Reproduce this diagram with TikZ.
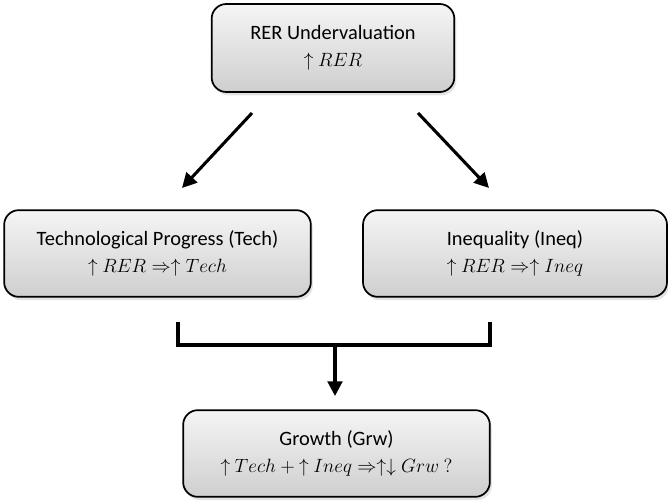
\documentclass[tikz,border=0pt]{standalone}
\usepackage{amsmath}
\usepackage{fontspec}
\setmainfont{Carlito}
\usetikzlibrary{arrows.meta,shadows}

\begin{document}
\begin{tikzpicture}[
    x=0.75pt, y=-0.75pt,
    box/.style={draw, line width=1.3pt, rounded corners=11pt, align=center,
                minimum height=65pt, top color=gray!8, bottom color=gray!38,
                drop shadow={opacity=0.22, shadow xshift=1.5pt, shadow yshift=-2.5pt},
                font=\fontsize{15.3}{20.5}\selectfont},
    flow/.style={line width=2.3pt, -{Triangle[length=11pt,width=11pt]}},
    bracket/.style={line width=2.3pt, line join=miter}
  ]
    \useasboundingbox (0,0) rectangle (668,502);

    \node[box, minimum width=182pt, minimum height=66pt] (rer) at (333,48)
      {RER Undervaluation\\${\uparrow}\ RER$};
    \node[box, minimum width=230pt] (tech) at (157.5,253.5)
      {Technological Progress (Tech)\\${\uparrow}\ RER \mathrel{\Rightarrow\uparrow} Tech$};
    \node[box, minimum width=228pt] (ineq) at (515,253.5)
      {Inequality (Ineq)\\${\uparrow}\ RER \mathrel{\Rightarrow\uparrow} Ineq$};
    \node[box, minimum width=230pt] (grw) at (336.5,453.5)
      {Growth (Grw)\\${\uparrow}\ Tech + {\uparrow}\ Ineq \mathrel{\Rightarrow\uparrow\downarrow} Grw\ ?$};

    % free ends of the connectors
    \coordinate (rerL) at (252,113);
    \coordinate (techT) at (182,188);
    \coordinate (rerR) at (418,113);
    \coordinate (ineqT) at (489,188);
    \coordinate (joinL) at (178,322);
    \coordinate (joinR) at (490,322);
    \coordinate (joinM) at (335,345);
    \coordinate (grwT) at (335,396);

    \draw[flow] (rerL) -- (techT);
    \draw[flow] (rerR) -- (ineqT);
    \draw[bracket] (joinL) -- (joinL |- joinM) -- (joinR |- joinM) -- (joinR);
    \draw[flow] (joinM) -- (grwT);
  \end{tikzpicture}
\end{document}
